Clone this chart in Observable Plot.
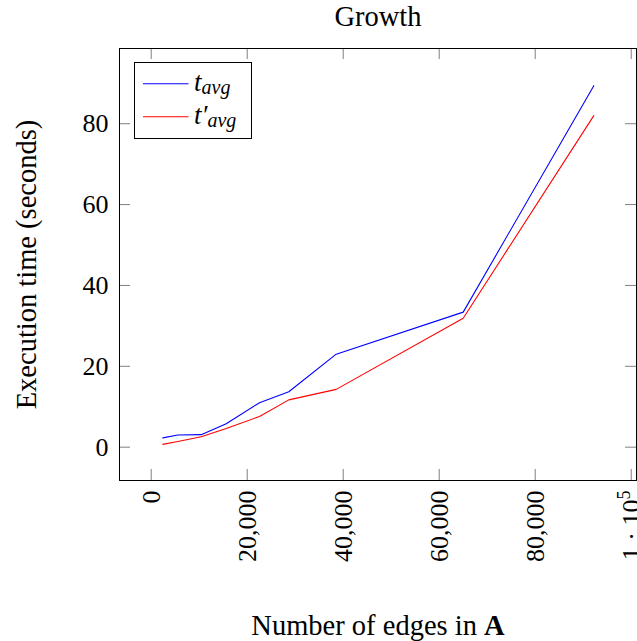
<!DOCTYPE html>
<html>
<head>
<meta charset="utf-8">
<script src="https://cdn.jsdelivr.net/npm/d3@7"></script>
<script src="https://cdn.jsdelivr.net/npm/@observablehq/plot@0.6"></script>
<style>
  html, body { margin: 0; padding: 0; background: #fff; }
  svg { display: block; }
</style>
</head>
<body>
<div id="chart"></div>
<script>
// ---- data ----
const edges = [2417, 5542, 10417, 15625, 22563, 28667, 38542, 65000, 92208];
const tAvg = [2.3, 3.0, 3.1, 5.8, 11.0, 13.7, 23.0, 33.4, 89.4];
const tAvgPrime = [0.7, 1.4, 2.6, 4.6, 7.6, 11.7, 14.3, 31.9, 82.0];
const xTicks = [0, 20000, 40000, 60000, 80000, 100000];
const yTicks = [0, 20, 40, 60, 80];
const seriesNames = ["t_avg", "t'_avg"];
const seriesColors = ["#0000ff", "#ff0000"];

const rows = [];
edges.forEach((e, i) => {
  rows.push({edges: e, time: tAvg[i], series: seriesNames[0]});
});
edges.forEach((e, i) => {
  rows.push({edges: e, time: tAvgPrime[i], series: seriesNames[1]});
});

const FONT = "'Liberation Serif', 'DejaVu Serif', serif";
const W = 637, H = 641;
const mL = 119, mR = 1, mT = 48, mB = 161;
const frameW = W - mL - mR, frameH = H - mT - mB;
const TICK = 11;

const plot = Plot.plot({
  width: W,
  height: H,
  marginLeft: mL,
  marginRight: mR,
  marginTop: mT,
  marginBottom: mB,
  style: {fontFamily: FONT, fontSize: "26px", color: "#000", background: "#fff", overflow: "visible"},
  x: {domain: [-6604, 101100], ticks: xTicks, label: null},
  y: {domain: [-8.24, 98.6], ticks: yTicks, label: null},
  color: {domain: seriesNames, range: seriesColors},
  marks: [
    // inward ticks on all four sides
    Plot.ruleX(xTicks, {x: d => d, stroke: "#808080", strokeWidth: 1, insetTop: frameH - TICK}),
    Plot.ruleX(xTicks, {x: d => d, stroke: "#808080", strokeWidth: 1, insetBottom: frameH - TICK}),
    Plot.ruleY(yTicks, {y: d => d, stroke: "#808080", strokeWidth: 1, insetRight: frameW - TICK}),
    Plot.ruleY(yTicks, {y: d => d, stroke: "#808080", strokeWidth: 1, insetLeft: frameW - TICK}),
    Plot.axisX({
      ticks: xTicks, tickSize: 0, tickPadding: 10, tickRotate: -90, label: null,
      tickFormat: d => d === 100000 ? "1 · 10^5" : d3.format(",")(d),
      fontSize: 26
    }),
    Plot.axisY({ticks: yTicks, tickSize: 0, tickPadding: 11, label: null, fontSize: 26}),
    Plot.line(rows, {x: "edges", y: "time", z: "series", stroke: "series", strokeWidth: 1.1}),
    Plot.frame({stroke: "#000", strokeWidth: 1}),
    Plot.text(["Growth"], {frameAnchor: "top", lineAnchor: "middle", dy: -32, fontSize: 28.5, text: d => d}),
    Plot.text(["Number of edges in A"], {frameAnchor: "bottom", lineAnchor: "middle", dy: 145, fontSize: 28.5, text: d => d}),
    Plot.text(["Execution time (seconds)"], {frameAnchor: "left", textAnchor: "middle", lineAnchor: "middle", dx: -93, rotate: -90, fontSize: 28.5, text: d => d})
  ]
});

document.getElementById("chart").appendChild(plot);

const svg = d3.select(plot);

// superscript on the 1·10^5 tick label
svg.selectAll("text").filter(function() { return this.textContent === "1 · 10^5"; })
  .each(function() {
    const t = d3.select(this);
    t.text(null);
    t.append("tspan").text("1 · 10");
    t.append("tspan").attr("font-size", 18).attr("dy", "-0.55em").text("5");
  });

// bold "A" in the x label
svg.selectAll("text").filter(function() { return this.textContent === "Number of edges in A"; })
  .each(function() {
    const t = d3.select(this);
    t.text(null);
    t.append("tspan").text("Number of edges in ");
    t.append("tspan").attr("font-weight", "bold").text("A");
  });

// legend
const lg = svg.append("g").attr("font-family", FONT).attr("text-anchor", "start");
lg.append("rect").attr("x", 134.5).attr("y", 62.5).attr("width", 117).attr("height", 76)
  .attr("fill", "#fff").attr("stroke", "#000").attr("stroke-width", 1);
const legendRows = [
  {name: seriesNames[0], color: seriesColors[0], y: 83.7, prime: false},
  {name: seriesNames[1], color: seriesColors[1], y: 116.7, prime: true}
];
legendRows.forEach(r => {
  lg.append("line").attr("x1", 143).attr("x2", 188.5).attr("y1", r.y).attr("y2", r.y)
    .attr("stroke", r.color).attr("stroke-width", 1.1);
  const tx = lg.append("text").attr("x", 194).attr("y", r.y + 7).attr("font-size", 27)
    .attr("font-style", "italic").attr("text-anchor", "start");
  tx.append("tspan").text(r.prime ? "t\u2032" : "t");
  tx.append("tspan").attr("font-size", 20).attr("dy", 3).text("avg");
});
</script>
</body>
</html>
